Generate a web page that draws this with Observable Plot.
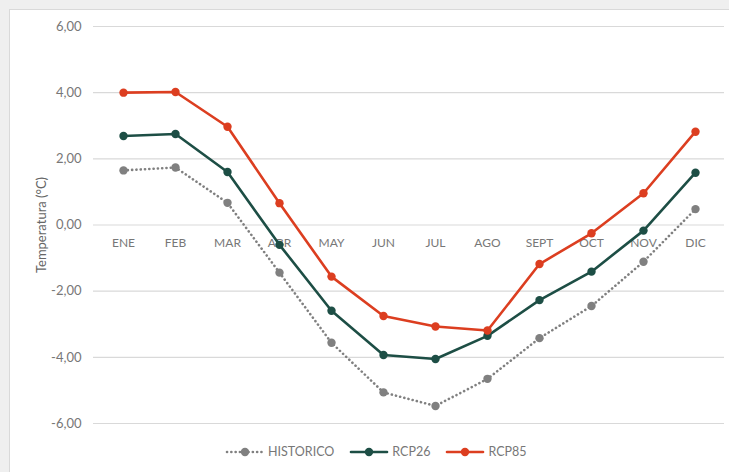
<!DOCTYPE html>
<html>
<head>
<meta charset="utf-8">
<script src="https://cdn.jsdelivr.net/npm/d3@7"></script>
<script src="https://cdn.jsdelivr.net/npm/@observablehq/plot@0.6"></script>
<style>
  html, body { margin: 0; padding: 0; background: #efefef; width: 729px; height: 472px; overflow: hidden; font-family: Lato, "Noto Sans", sans-serif; }
  #box { position: absolute; left: 9px; top: 9px; width: 719px; height: 470px; background: #fff; border-left: 1px solid #d9d9d9; border-top: 1px solid #d9d9d9; }
  #chart { position: absolute; left: 0; top: 0; }
  #legend { position: absolute; left: 215px; top: 434px; display: flex; align-items: center; font-size: 12.5px; color: #777; }
  .item { display: flex; align-items: center; margin-right: 15px; }
  .item svg { margin-right: 3px; }
</style>
</head>
<body>
<div id="box"><div id="chart"></div><div id="legend"></div></div>
<script>
const months = ["ENE","FEB","MAR","ABR","MAY","JUN","JUL","AGO","SEPT","OCT","NOV","DIC"];
const historico = [1.65, 1.74, 0.67, -1.44, -3.56, -5.06, -5.47, -4.65, -3.42, -2.45, -1.11, 0.48];
const rcp26 = [2.69, 2.75, 1.60, -0.60, -2.59, -3.93, -4.05, -3.35, -2.27, -1.41, -0.17, 1.58];
const rcp85 = [4.00, 4.02, 2.97, 0.66, -1.56, -2.75, -3.07, -3.19, -1.18, -0.25, 0.96, 2.82];
const yTicks = [-6, -4, -2, 0, 2, 4, 6];
const seriesNames = ["HISTORICO", "RCP26", "RCP85"];
const seriesColors = ["#808080", "#1d4e45", "#dc3e20"];
const yLabel = "Temperatura (°C)";

const seriesValues = [historico, rcp26, rcp85];
const table = seriesNames.map((name, s) => months.map((m, i) => ({series: name, month: m, value: seriesValues[s][i]})));
const fmt = d => d.toFixed(2).replace(".", ",");
const textColor = "#777";

const lineMarks = [];
table.forEach((rows, s) => {
  const dotted = s === 0;
  lineMarks.push(Plot.line(rows, {
    x: "month", y: "value", stroke: seriesColors[s], strokeWidth: 2.6,
    strokeDasharray: dotted ? "0.1 4.2" : null, strokeLinecap: "round", strokeLinejoin: "round"
  }));
  lineMarks.push(Plot.dot(rows, {x: "month", y: "value", fill: seriesColors[s], r: 4.2}));
});

const chart = Plot.plot({
  width: 719, height: 425,
  marginLeft: 83, marginRight: 5, marginTop: 16, marginBottom: 12,
  style: {fontFamily: "Lato, 'Noto Sans', sans-serif", background: "transparent", overflow: "visible"},
  x: {type: "point", domain: months, padding: 0.5, axis: null},
  y: {domain: [-6, 6], axis: null},
  marks: [
    Plot.gridY(yTicks, {stroke: "#d9d9d9", strokeOpacity: 1, strokeWidth: 1.2}),
    Plot.axisY(yTicks, {tickSize: 0, tickPadding: 12, tickFormat: fmt, fontSize: 13, fill: textColor, label: null}),
    Plot.text(months, {x: d => d, y: () => 0, dy: 18, fontSize: 12, fill: textColor}),
    Plot.text([yLabel], {frameAnchor: "left", textAnchor: "middle", dx: -52, dy: 0, rotate: -90, fontSize: 13, fill: "#666"}),
    ...lineMarks
  ]
});
document.getElementById("chart").appendChild(chart);

const legend = document.getElementById("legend");
seriesNames.forEach((name, s) => {
  const item = document.createElement("div");
  item.className = "item";
  const dotted = s === 0;
  item.innerHTML = `<svg width="40" height="12"><line x1="2" y1="6" x2="38" y2="6" stroke="${seriesColors[s]}" stroke-width="2.6" stroke-linecap="round" ${dotted ? 'stroke-dasharray="0.1 4.2"' : ''}/><circle cx="20" cy="6" r="4.2" fill="${seriesColors[s]}"/></svg><span>${name}</span>`;
  legend.appendChild(item);
});
</script>
</body>
</html>
